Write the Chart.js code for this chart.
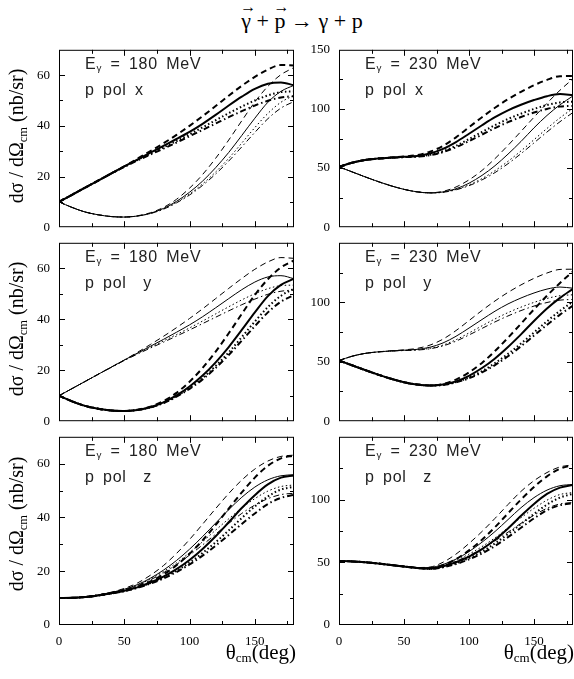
<!DOCTYPE html>
<html>
<head>
<meta charset="utf-8">
<script src="https://cdn.jsdelivr.net/npm/chart.js@4.4.0/dist/chart.umd.min.js"></script>
<style>
  body { margin: 0; width: 574px; height: 679px; background: #fff; position: relative; overflow: hidden; font-family: 'Liberation Serif', 'DejaVu Serif', serif; color: #000; }
  canvas { position: absolute; }
  .title { position: absolute; left: 0; width: 604px; top: 10px; text-align: center; font-size: 22px; line-height: 22px; white-space: nowrap; }
  .vec { position: relative; display: inline-block; }
  .vec .arr { position: absolute; left: -1px; top: -14px; font-size: 16px; }
  .ytitle { position: absolute; font-size: 20px; white-space: nowrap; transform: translate(-50%, -50%) rotate(-90deg); }
  .xtitle { position: absolute; font-size: 21px; line-height: 22px; white-space: nowrap; }
  .ptext { position: absolute; font-family: 'Liberation Sans', Arial, sans-serif; font-size: 16px; line-height: 18px; color: #222; letter-spacing: 0.8px; word-spacing: 3px; white-space: nowrap; }
  sub { font-size: 0.62em; vertical-align: -0.25em; }
</style>
</head>
<body>
<div class="title"><span class="vec"><span class="arr">&rarr;</span>&gamma;</span> + <span class="vec"><span class="arr">&rarr;</span>p</span> &rarr; &gamma; + p</div>

<script>
const theta = [0, 10, 20, 30, 40, 50, 60, 70, 80, 90, 100, 110, 120, 130, 140, 150, 160, 170, 180];

// E = 180 MeV, p pol x  (A = rising branch, B = dipping branch)
const x180_A_solid = [10, 12.8, 15.6, 18.4, 21.2, 24, 26.7, 29.4, 32.1, 34.8, 37.6, 40.8, 44.3, 48, 51.5, 54.6, 56.6, 57.1, 56];
const x180_A_dash  = [10, 12.8, 15.6, 18.4, 21.2, 24, 27, 30, 33.1, 36.4, 40, 43.8, 47.8, 51.9, 55.8, 59.3, 62.2, 64, 63.8];
const x180_A_dot   = [10, 12.8, 15.6, 18.4, 21.2, 23.9, 26.5, 29, 31.5, 34, 36.7, 39.4, 42.2, 45, 47.6, 50, 52, 53.3, 53.6];
const x180_A_dd    = [10, 12.8, 15.6, 18.4, 21.1, 23.8, 26.3, 28.7, 31, 33.4, 35.9, 38.4, 40.9, 43.4, 45.8, 48, 49.9, 51.2, 51.7];
const x180_B_solid = [10, 7.8, 6.0, 4.9, 4.2, 4.0, 4.4, 5.5, 7.4, 10.2, 13.8, 18.2, 23.5, 29.5, 36.2, 43, 49.3, 53.6, 56];
const x180_B_dash  = [10, 7.8, 6.0, 4.9, 4.2, 4.0, 4.5, 5.7, 7.8, 11, 15.4, 20.8, 27.2, 34.4, 42, 49.4, 55.6, 60.2, 63];
const x180_B_dot   = [10, 7.8, 6.0, 4.9, 4.2, 4.0, 4.4, 5.4, 7.2, 9.8, 13.1, 17.1, 21.8, 27.2, 33.2, 39.3, 44.9, 49.3, 52];
const x180_B_dd    = [10, 7.8, 6.0, 4.9, 4.2, 4.0, 4.4, 5.4, 7.1, 9.6, 12.7, 16.5, 21, 26.1, 31.7, 37.4, 42.8, 47, 49.6];

// E = 230 MeV, p pol x
const x230_A_solid = [51, 54.5, 56.8, 58.1, 58.9, 59.5, 60.3, 62.3, 66.2, 72, 79, 86.2, 93, 98.8, 103.5, 107.5, 110.8, 112.6, 111.5];
const x230_A_dash  = [51, 54.5, 56.8, 58.1, 59, 59.8, 61, 63.8, 68.8, 76, 84.5, 93, 101, 108.2, 114.5, 120, 124.6, 127.7, 127.8];
const x230_A_dot   = [51, 54.5, 56.8, 58, 58.8, 59.3, 59.9, 61.3, 64.2, 68.8, 74.5, 80.5, 86.3, 91.5, 96, 100, 103.3, 105.5, 106.2];
const x230_A_dd    = [51, 54.5, 56.8, 58, 58.7, 59.2, 59.7, 60.9, 63.5, 67.6, 72.8, 78.3, 83.8, 88.8, 93.2, 97, 100, 102, 102.6];
const x230_B_solid = [51, 46.8, 42.6, 38.6, 35, 32, 29.9, 29, 29.8, 32.5, 37.2, 43.8, 52, 61.8, 72.5, 84, 94.5, 103.5, 111];
const x230_B_dash  = [51, 46.8, 42.6, 38.6, 35, 32, 29.9, 29.1, 30.3, 34, 40, 48, 58, 69.2, 81, 93, 104.8, 115.8, 125.5];
const x230_B_dot   = [51, 46.8, 42.6, 38.6, 35, 32, 29.9, 29, 29.6, 31.9, 35.8, 41.1, 47.8, 55.7, 64.5, 74, 83.5, 92.5, 100.5];
const x230_B_dd    = [51, 46.8, 42.6, 38.6, 35, 32, 29.9, 29, 29.5, 31.6, 35.1, 40, 46.2, 53.7, 62.2, 71.3, 80.5, 89.2, 97];

// E = 180 MeV, p pol y
const y180_A_solid = [10, 12.8, 15.6, 18.4, 21.2, 24, 26.7, 29.4, 32.1, 34.9, 37.8, 41, 44.5, 48.1, 51.6, 54.6, 56.6, 57.1, 55.9];
const y180_A_dash  = [10, 12.8, 15.6, 18.4, 21.2, 24, 27, 30.1, 33.3, 36.7, 40.3, 44.1, 48.1, 52.1, 56, 59.6, 62.5, 64.2, 63.9];
const y180_A_dot   = [10, 12.8, 15.6, 18.4, 21.2, 23.9, 26.5, 29, 31.5, 34, 36.6, 39.3, 42.1, 44.9, 47.6, 50, 52, 53.2, 53.4];
const y180_A_dd    = [10, 12.8, 15.6, 18.4, 21.1, 23.8, 26.3, 28.7, 31, 33.4, 35.8, 38.3, 40.8, 43.3, 45.7, 47.9, 49.8, 51, 51.5];
const y180_B_solid = [10, 7.8, 6.0, 4.9, 4.2, 4.0, 4.4, 5.5, 7.4, 10.1, 13.6, 17.9, 23.1, 29.1, 35.8, 42.7, 49.1, 53.5, 55.9];
const y180_B_dash  = [10, 7.8, 6.0, 4.9, 4.2, 4.0, 4.5, 5.7, 7.9, 11.1, 15.5, 20.9, 27.3, 34.5, 42.1, 49.5, 55.7, 60.3, 63.1];
const y180_B_dot   = [10, 7.8, 6.0, 4.9, 4.2, 4.0, 4.4, 5.4, 7.2, 9.8, 13.1, 17, 21.7, 27, 33, 39.1, 44.8, 49.2, 52];
const y180_B_dd    = [10, 7.8, 6.0, 4.9, 4.2, 4.0, 4.4, 5.4, 7.1, 9.6, 12.7, 16.4, 20.9, 26, 31.6, 37.3, 42.7, 46.9, 49.5];

// E = 230 MeV, p pol y
const y230_A_solid = [51, 54.6, 57, 58.3, 59.1, 59.7, 60.4, 62.2, 65.8, 71.4, 78.3, 85.5, 92.5, 98.6, 103.6, 107.8, 111.1, 112.8, 111.8];
const y230_A_dash  = [51, 54.6, 57, 58.3, 59.2, 60, 61.2, 64, 69, 76.2, 84.6, 93.1, 101.1, 108.3, 114.6, 120.1, 124.6, 127.6, 127.8];
const y230_A_dot   = [51, 54.6, 57, 58.2, 59, 59.5, 60, 61.3, 64, 68.5, 74.2, 80.2, 86, 91.3, 95.9, 99.9, 103.2, 105.5, 106.3];
const y230_A_dd    = [51, 54.6, 57, 58.2, 58.9, 59.4, 59.8, 60.9, 63.3, 67.3, 72.5, 78, 83.5, 88.5, 93, 96.8, 99.8, 101.8, 102.4];
const y230_B_solid = [51, 47, 43, 39.2, 35.7, 32.8, 30.8, 30, 30.8, 33.5, 38.2, 44.7, 52.8, 62.4, 73, 84.3, 94.8, 103.7, 111.4];
const y230_B_dash  = [51, 47, 43, 39.2, 35.7, 32.8, 30.8, 30.1, 31.3, 35, 41, 49, 59, 70.2, 82, 94, 105.5, 116.2, 125.8];
const y230_B_dot   = [51, 47, 43, 39.2, 35.7, 32.8, 30.8, 30, 30.6, 32.9, 36.8, 42.1, 48.8, 56.6, 65.3, 74.6, 84, 92.8, 100.6];
const y230_B_dd    = [51, 47, 43, 39.2, 35.7, 32.8, 30.8, 30, 30.5, 32.6, 36.1, 41, 47.2, 54.6, 63, 72, 81, 89.6, 97.2];

// E = 180 MeV, p pol z  (A = upper thin group, B = lower thick group)
const z180_A_solid = [10, 10.1, 10.5, 11.2, 12.1, 13.3, 15, 17.4, 20.4, 24, 28.2, 32.9, 37.9, 42.9, 47.5, 51.3, 54, 55.5, 55.9];
const z180_A_dash  = [10, 10.1, 10.5, 11.2, 12.2, 13.6, 15.6, 18.5, 22.1, 26.6, 31.8, 37.5, 43.3, 48.9, 53.9, 58, 61, 62.7, 63.2];
const z180_A_dot   = [10, 10.1, 10.5, 11.2, 12.1, 13.2, 14.8, 17.1, 19.9, 23.1, 26.9, 31, 35.3, 39.5, 43.5, 47, 49.8, 51.5, 52.1];
const z180_A_dd    = [10, 10.1, 10.5, 11.2, 12.1, 13.1, 14.6, 16.8, 19.4, 22.5, 26, 29.8, 33.8, 37.8, 41.5, 44.6, 47, 48.5, 49];
const z180_B_solid = [10, 10.1, 10.4, 11, 11.8, 12.7, 14, 15.8, 18, 20.8, 24.2, 28.3, 33, 38.2, 43.5, 48.3, 52.3, 54.8, 55.6];
const z180_B_dash  = [10, 10.1, 10.4, 11, 11.8, 12.8, 14.2, 16.2, 18.8, 22.2, 26.5, 31.5, 37.2, 43.3, 49.3, 54.8, 59.2, 62, 63];
const z180_B_dot   = [10, 10.1, 10.4, 11, 11.8, 12.6, 13.9, 15.6, 17.6, 20.2, 23.2, 26.8, 30.8, 35.2, 39.8, 44.1, 47.8, 50.4, 51.4];
const z180_B_dd    = [10, 10.1, 10.4, 11, 11.7, 12.6, 13.8, 15.4, 17.3, 19.7, 22.5, 25.8, 29.5, 33.5, 37.6, 41.5, 45, 47.3, 48.4];

// E = 230 MeV, p pol z
const z230_A_solid = [51, 50.7, 50, 49, 47.8, 46.6, 45.6, 45.8, 48.2, 52.5, 58.5, 66, 74.5, 84, 93.5, 101.5, 107.5, 111, 112];
const z230_A_dash  = [51, 50.7, 50, 49, 47.8, 46.7, 45.8, 46.2, 50, 56.5, 65, 74.5, 85, 96, 106.5, 115, 121.5, 126, 127.6];
const z230_A_dot   = [51, 50.7, 50, 49, 47.8, 46.6, 45.5, 45.3, 47.5, 51.5, 56.5, 62.5, 69.5, 77.5, 85.5, 93, 99.5, 104, 105.6];
const z230_A_dd    = [51, 50.7, 50, 49, 47.8, 46.6, 45.5, 45.2, 47.2, 50.8, 55.3, 60.8, 67, 74, 81, 87.5, 93, 96.5, 97.6];
const z230_B_solid = [51, 50.7, 50, 49, 47.8, 46.6, 45.5, 45, 46.8, 50, 54.5, 60.5, 68, 77, 87, 96.5, 104.5, 109.5, 111.6];
const z230_B_dash  = [51, 50.7, 50, 49, 47.8, 46.6, 45.6, 45.3, 47.8, 52.5, 59.5, 68, 78, 89, 100, 110, 118.5, 124.5, 127.6];
const z230_B_dot   = [51, 50.7, 50, 49, 47.8, 46.6, 45.4, 44.8, 46.3, 49.2, 53.3, 58.5, 65, 72.5, 80.5, 88.5, 96, 101.5, 104.6];
const z230_B_dd    = [51, 50.7, 50, 49, 47.8, 46.6, 45.4, 44.7, 46, 48.6, 52.3, 57, 63, 70, 77.5, 85, 91.5, 95.5, 97];

const xTickLabels = [0, 50, 100, 150];
const energies = ['180', '230'];
const pols = ['x', 'y', 'z'];

// line styles: solid, dashed, dotted, dash-dot
const dashes = [[], [6, 4], [1.5, 2.5], [6, 3, 1.5, 3]];

const panels = [
    { row: 0, col: 0, ymax: 70,  ystep: 20, yminor: 10, thickA: true,  A: [x180_A_solid, x180_A_dash, x180_A_dot, x180_A_dd], B: [x180_B_solid, x180_B_dash, x180_B_dot, x180_B_dd] },
    { row: 0, col: 1, ymax: 150, ystep: 50, yminor: 25, thickA: true,  A: [x230_A_solid, x230_A_dash, x230_A_dot, x230_A_dd], B: [x230_B_solid, x230_B_dash, x230_B_dot, x230_B_dd] },
    { row: 1, col: 0, ymax: 70,  ystep: 20, yminor: 10, thickA: false, A: [y180_A_solid, y180_A_dash, y180_A_dot, y180_A_dd], B: [y180_B_solid, y180_B_dash, y180_B_dot, y180_B_dd] },
    { row: 1, col: 1, ymax: 150, ystep: 50, yminor: 25, thickA: false, A: [y230_A_solid, y230_A_dash, y230_A_dot, y230_A_dd], B: [y230_B_solid, y230_B_dash, y230_B_dot, y230_B_dd] },
    { row: 2, col: 0, ymax: 70,  ystep: 20, yminor: 10, thickA: false, A: [z180_A_solid, z180_A_dash, z180_A_dot, z180_A_dd], B: [z180_B_solid, z180_B_dash, z180_B_dot, z180_B_dd] },
    { row: 2, col: 1, ymax: 150, ystep: 50, yminor: 25, thickA: false, A: [z230_A_solid, z230_A_dash, z230_A_dot, z230_A_dd], B: [z230_B_solid, z230_B_dash, z230_B_dot, z230_B_dd] }
];

// page geometry
const rowTop = [43, 236, 430];
const rowBottom = [236, 430, 625];
const colCanvasLeft = [0, 280];
const colCanvasWidth = [298, 294];
const colPadRight = [4, 1];
const yAxisWidth = 59;
const serif = "'Liberation Serif', 'DejaVu Serif', serif";

// frame with inward ticks on all four sides
const frameTicks = {
    id: 'frameTicks',
    afterDatasetsDraw(chart, args, opts) {
        const { ctx, chartArea: a, scales: { x, y } } = chart;
        ctx.save();
        ctx.strokeStyle = '#000';
        ctx.lineWidth = 1;
        ctx.strokeRect(a.left + 0.5, a.top + 0.5, a.right - a.left - 1, a.bottom - a.top - 1);
        ctx.beginPath();
        for (let v = 25; v < 180; v += 25) {
            const px = Math.round(x.getPixelForValue(v)) + 0.5;
            const len = v % 50 === 0 ? 6 : 4;
            ctx.moveTo(px, a.bottom); ctx.lineTo(px, a.bottom - len);
            ctx.moveTo(px, a.top); ctx.lineTo(px, a.top + len);
        }
        for (let v = opts.minor; v < opts.max; v += opts.minor) {
            const py = Math.round(y.getPixelForValue(v)) + 0.5;
            const len = v % opts.step === 0 ? 6 : 4;
            ctx.moveTo(a.left, py); ctx.lineTo(a.left + len, py);
            ctx.moveTo(a.right, py); ctx.lineTo(a.right - len, py);
        }
        ctx.stroke();
        ctx.restore();
    }
};

function addDiv(cls, html, style) {
    const d = document.createElement('div');
    d.className = cls;
    d.innerHTML = html;
    Object.assign(d.style, style);
    document.body.appendChild(d);
    return d;
}

panels.forEach(p => {
    const bottomRow = p.row === 2;
    const top = rowTop[p.row] - 10;
    const xAxisH = bottomRow ? 28 : 0;
    const padBottom = bottomRow ? 0 : 8;
    const height = rowBottom[p.row] - rowTop[p.row] + 10 + xAxisH + padBottom;

    const canvas = document.createElement('canvas');
    canvas.width = colCanvasWidth[p.col];
    canvas.height = height;
    canvas.style.left = colCanvasLeft[p.col] + 'px';
    canvas.style.top = top + 'px';
    document.body.appendChild(canvas);

    const datasets = [];
    [['A', p.thickA], ['B', !p.thickA]].forEach(([g, thick]) => {
        p[g].forEach((vals, k) => {
            datasets.push({
                data: vals.map((v, i) => ({ x: theta[i], y: v })),
                borderColor: '#000',
                borderWidth: thick ? 2 : 1,
                borderDash: dashes[k],
                pointRadius: 0,
                cubicInterpolationMode: 'monotone',
                fill: false
            });
        });
    });

    new Chart(canvas, {
        type: 'line',
        data: { datasets },
        options: {
            responsive: false,
            animation: false,
            events: [],
            layout: { padding: { top: 10, right: colPadRight[p.col], bottom: padBottom, left: 0 } },
            plugins: {
                legend: { display: false },
                tooltip: { enabled: false },
                frameTicks: { max: p.ymax, step: p.ystep, minor: p.yminor }
            },
            scales: {
                x: {
                    type: 'linear', min: 0, max: 180,
                    grid: { display: false, drawTicks: false },
                    border: { display: false },
                    afterFit: s => { s.height = xAxisH; },
                    afterBuildTicks: s => { s.ticks = xTickLabels.map(v => ({ value: v })); },
                    ticks: {
                        display: bottomRow, padding: 9, maxRotation: 0,
                        color: '#000', font: { family: serif, size: 13 }
                    }
                },
                y: {
                    min: 0, max: p.ymax,
                    grid: { display: false, drawTicks: false },
                    border: { display: false },
                    afterFit: s => { s.width = yAxisWidth; },
                    ticks: {
                        stepSize: p.ystep, includeBounds: false, padding: 9,
                        color: '#000', font: { family: serif, size: 13 },
                        callback: v => (p.row > 0 && v === p.ymax) ? '' : v
                    }
                }
            }
        },
        plugins: [frameTicks]
    });

    // panel labels
    const left = colCanvasLeft[p.col] + yAxisWidth + 26;
    const polTxt = pols[p.row] === 'x' ? 'p pol x' : 'p pol&nbsp; ' + pols[p.row];
    addDiv('ptext', 'E<sub>&gamma;</sub> = ' + energies[p.col] + ' MeV', { left: left + 'px', top: (rowTop[p.row] + 12) + 'px' });
    addDiv('ptext', polTxt, { left: left + 'px', top: (rowTop[p.row] + 38) + 'px' });
});

// y axis titles, one per row
rowTop.forEach((t, r) => {
    addDiv('ytitle', 'd&sigma; / d&Omega;<sub>cm</sub> (nb/sr)', { left: '18px', top: ((t + rowBottom[r]) / 2 - 4) + 'px' });
});

// x axis titles under each column
addDiv('xtitle', '&theta;<sub>cm</sub>(deg)', { right: (574 - 296) + 'px', top: '641px' });
addDiv('xtitle', '&theta;<sub>cm</sub>(deg)', { right: '0px', top: '641px' });
</script>
</body>
</html>
